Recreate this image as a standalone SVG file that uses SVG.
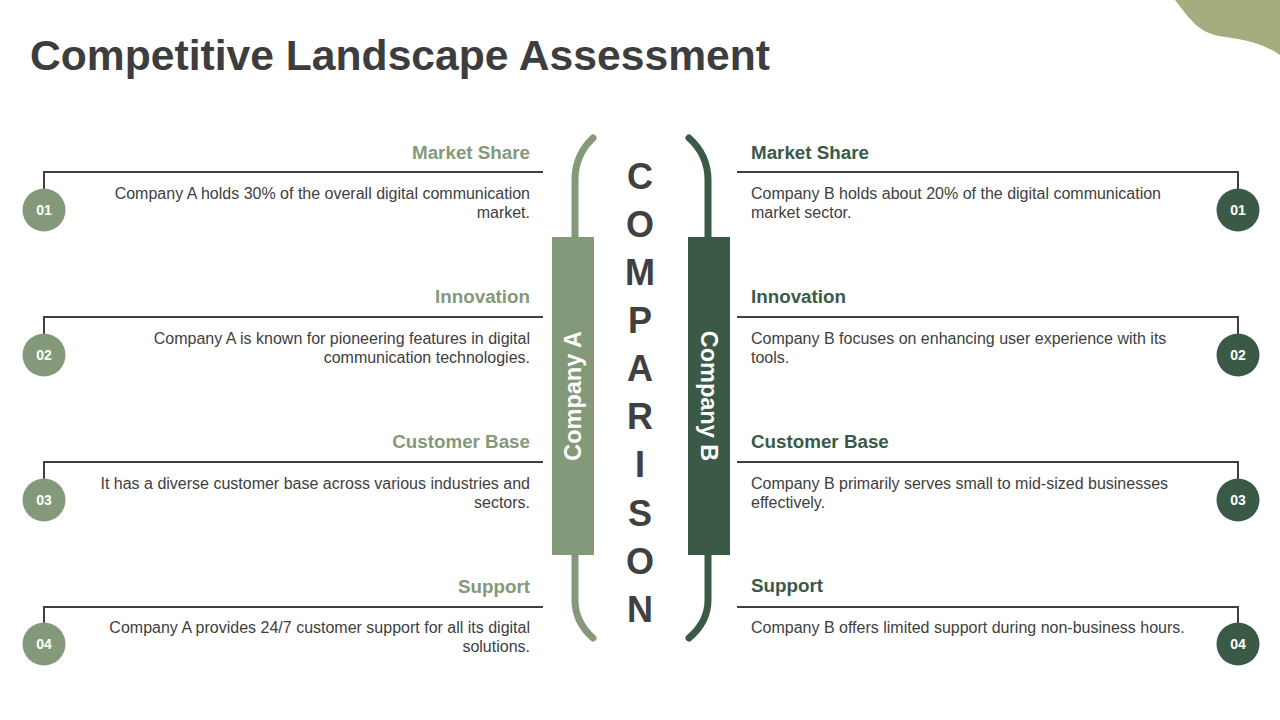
<svg xmlns="http://www.w3.org/2000/svg" width="1280" height="720" viewBox="0 0 1280 720">
<style>
.title{font-family:"Liberation Sans",Arial,sans-serif;font-weight:bold;font-size:42px;fill:#3d3d3d}
.hA{font-family:"Liberation Sans",Arial,sans-serif;font-weight:bold;font-size:18.8px;fill:#84997a;text-anchor:end}
.hB{font-family:"Liberation Sans",Arial,sans-serif;font-weight:bold;font-size:18.8px;fill:#3a5a47}
.bA{font-family:"Liberation Sans",Arial,sans-serif;font-size:16px;fill:#404040;text-anchor:end}
.bB{font-family:"Liberation Sans",Arial,sans-serif;font-size:16px;fill:#404040}
.num{font-family:"Liberation Sans",Arial,sans-serif;font-weight:bold;font-size:14px;fill:#fff;text-anchor:middle}
.ln{fill:none;stroke:#404040;stroke-width:2}
.cA{fill:#84997a}
.cB{fill:#3a5a47}
.big{font-family:"Liberation Sans",Arial,sans-serif;font-weight:bold;font-size:36px;fill:#404040;text-anchor:middle}
.co{font-family:"Liberation Sans",Arial,sans-serif;font-weight:bold;font-size:23.5px;fill:#fff;text-anchor:middle}
</style>
<rect width="1280" height="720" fill="#fff"/>
<path d="M1175,0 C1192,22 1200,34 1225,37 C1250,40 1265,45 1280,55 L1280,0 Z" fill="#a3ad7d"/>
<text class="title" x="30" y="70" textLength="740" lengthAdjust="spacingAndGlyphs">Competitive Landscape Assessment</text>

<g id="connectors">
<path class="ln" d="M543,172 H44 V190"/>
<path class="ln" d="M543,317 H44 V335"/>
<path class="ln" d="M543,462 H44 V480"/>
<path class="ln" d="M543,607 H44 V625"/>
<path class="ln" d="M737,172 H1238 V190"/>
<path class="ln" d="M737,317 H1238 V335"/>
<path class="ln" d="M737,462 H1238 V480"/>
<path class="ln" d="M737,607 H1238 V625"/>
</g>

<g id="center">
<path d="M593,138 Q575,155 575,180 V240 M575,552 V600 Q575,622 593,638" fill="none" stroke="#84997a" stroke-width="7" stroke-linecap="round"/>
<rect x="552" y="237" width="42" height="318" fill="#84997a"/>
<text class="co" transform="translate(581,396) rotate(-90)">Company A</text>
<path d="M689,138 Q708,155 708,180 V240 M708,552 V600 Q708,622 689,638" fill="none" stroke="#3a5a47" stroke-width="7" stroke-linecap="round"/>
<rect x="688" y="237" width="42" height="318" fill="#3a5a47"/>
<text class="co" transform="translate(701,396) rotate(90)">Company B</text>
<text class="big" x="640" y="189">C</text>
<text class="big" x="640" y="237">O</text>
<text class="big" x="640" y="285">M</text>
<text class="big" x="640" y="333">P</text>
<text class="big" x="640" y="381">A</text>
<text class="big" x="640" y="429">R</text>
<text class="big" x="640" y="477">I</text>
<text class="big" x="640" y="526">S</text>
<text class="big" x="640" y="574">O</text>
<text class="big" x="640" y="622">N</text>
</g>

<g id="a1">
<text class="hA" x="530" y="159">Market Share</text>
<text class="bA" x="530" y="199">Company A holds 30% of the overall digital communication</text>
<text class="bA" x="530" y="218">market.</text>
<circle class="cA" cx="44" cy="210" r="21.5"/><text class="num" x="44" y="215">01</text>
</g>
<g id="a2">
<text class="hA" x="530" y="303">Innovation</text>
<text class="bA" x="530" y="344">Company A is known for pioneering features in digital</text>
<text class="bA" x="530" y="363">communication technologies.</text>
<circle class="cA" cx="44" cy="355" r="21.5"/><text class="num" x="44" y="360">02</text>
</g>
<g id="a3">
<text class="hA" x="530" y="448">Customer Base</text>
<text class="bA" x="530" y="489">It has a diverse customer base across various industries and</text>
<text class="bA" x="530" y="508">sectors.</text>
<circle class="cA" cx="44" cy="500" r="21.5"/><text class="num" x="44" y="505">03</text>
</g>
<g id="a4">
<text class="hA" x="530" y="593">Support</text>
<text class="bA" x="530" y="633">Company A provides 24/7 customer support for all its digital</text>
<text class="bA" x="530" y="652">solutions.</text>
<circle class="cA" cx="44" cy="644" r="21.5"/><text class="num" x="44" y="649">04</text>
</g>

<g id="b1">
<text class="hB" x="751" y="159">Market Share</text>
<text class="bB" x="751" y="199">Company B holds about 20% of the digital communication</text>
<text class="bB" x="751" y="218">market sector.</text>
<circle class="cB" cx="1238" cy="210" r="21.5"/><text class="num" x="1238" y="215">01</text>
</g>
<g id="b2">
<text class="hB" x="751" y="303">Innovation</text>
<text class="bB" x="751" y="344">Company B focuses on enhancing user experience with its</text>
<text class="bB" x="751" y="363">tools.</text>
<circle class="cB" cx="1238" cy="355" r="21.5"/><text class="num" x="1238" y="360">02</text>
</g>
<g id="b3">
<text class="hB" x="751" y="448">Customer Base</text>
<text class="bB" x="751" y="489">Company B primarily serves small to mid-sized businesses</text>
<text class="bB" x="751" y="508">effectively.</text>
<circle class="cB" cx="1238" cy="500" r="21.5"/><text class="num" x="1238" y="505">03</text>
</g>
<g id="b4">
<text class="hB" x="751" y="592">Support</text>
<text class="bB" x="751" y="633">Company B offers limited support during non-business hours.</text>
<circle class="cB" cx="1238" cy="644" r="21.5"/><text class="num" x="1238" y="649">04</text>
</g>
</svg>
